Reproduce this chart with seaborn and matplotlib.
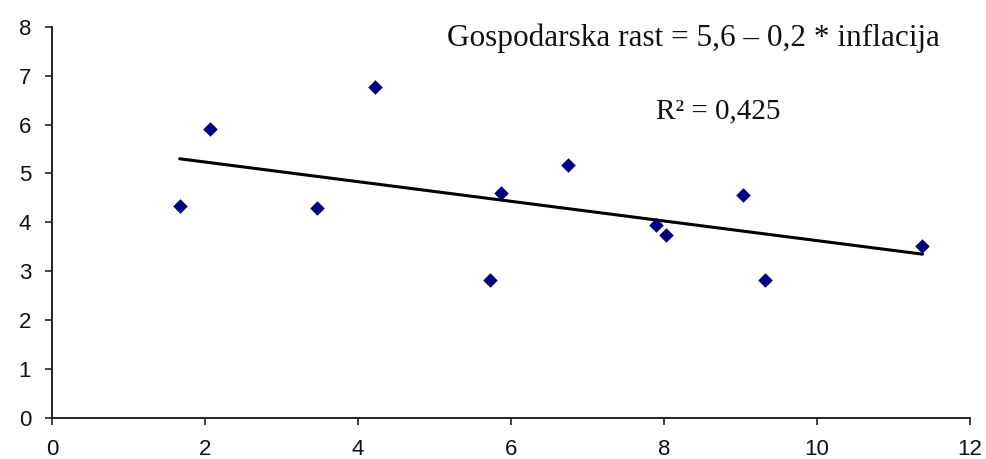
import matplotlib
matplotlib.use('Agg')
import matplotlib.pyplot as plt
import seaborn as sns
import pandas as pd

# =====================
# Data
# =====================
inflacija = [1.67, 2.07, 3.46, 4.22, 5.73, 5.87, 6.74, 7.89, 8.03, 9.03, 9.32, 11.38]
rast      = [4.33, 5.90, 4.29, 6.76, 2.83, 4.60, 5.18, 3.94, 3.75, 4.56, 2.83, 3.51]
x_ticks = [0, 2, 4, 6, 8, 10, 12]
y_ticks = [0, 1, 2, 3, 4, 5, 6, 7, 8]
equation = 'Gospodarska rast = 5,6 – 0,2 * inflacija'
r2_text = 'R² = 0,425'

df = pd.DataFrame({'inflacija': inflacija, 'rast': rast})

# =====================
# Plot
# =====================
sns.set_style('white')
plt.rcParams['font.family'] = ['Liberation Sans', 'DejaVu Sans']

fig = plt.figure(figsize=(9.86, 4.59), dpi=100)
ax = fig.add_axes([0.0527, 0.0893, 0.931, 0.8525])

sns.regplot(data=df, x='inflacija', y='rast', ax=ax, ci=None,
            marker='D',
            scatter_kws={'s': 55, 'color': '#000080', 'alpha': 1,
                         'linewidths': 0, 'zorder': 3},
            line_kws={'color': 'black', 'linewidth': 2.2, 'zorder': 2})

ax.set_xlim(0, 12)
ax.set_ylim(0, 8)
ax.set_xticks(x_ticks)
ax.set_yticks(y_ticks)
ax.set_xlabel('')
ax.set_ylabel('')
ax.tick_params(axis='both', direction='out', length=5, width=1.2,
               color='#222222', labelsize=16, pad=10, labelcolor='#111111')
ax.tick_params(axis='both', which='both', bottom=True, left=True)

for side in ['top', 'right']:
    ax.spines[side].set_visible(False)
for side in ['left', 'bottom']:
    ax.spines[side].set_color('#222222')
    ax.spines[side].set_linewidth(1.4)

serif = ['Liberation Serif', 'DejaVu Serif']
fig.text(0.703, 0.900, equation, ha='center', va='baseline',
         fontsize=22.5, family=serif, color='#111111')
fig.text(0.728, 0.743, r2_text, ha='center', va='baseline',
         fontsize=21, family=serif, color='#111111')

plt.savefig('out.png', dpi=100)
